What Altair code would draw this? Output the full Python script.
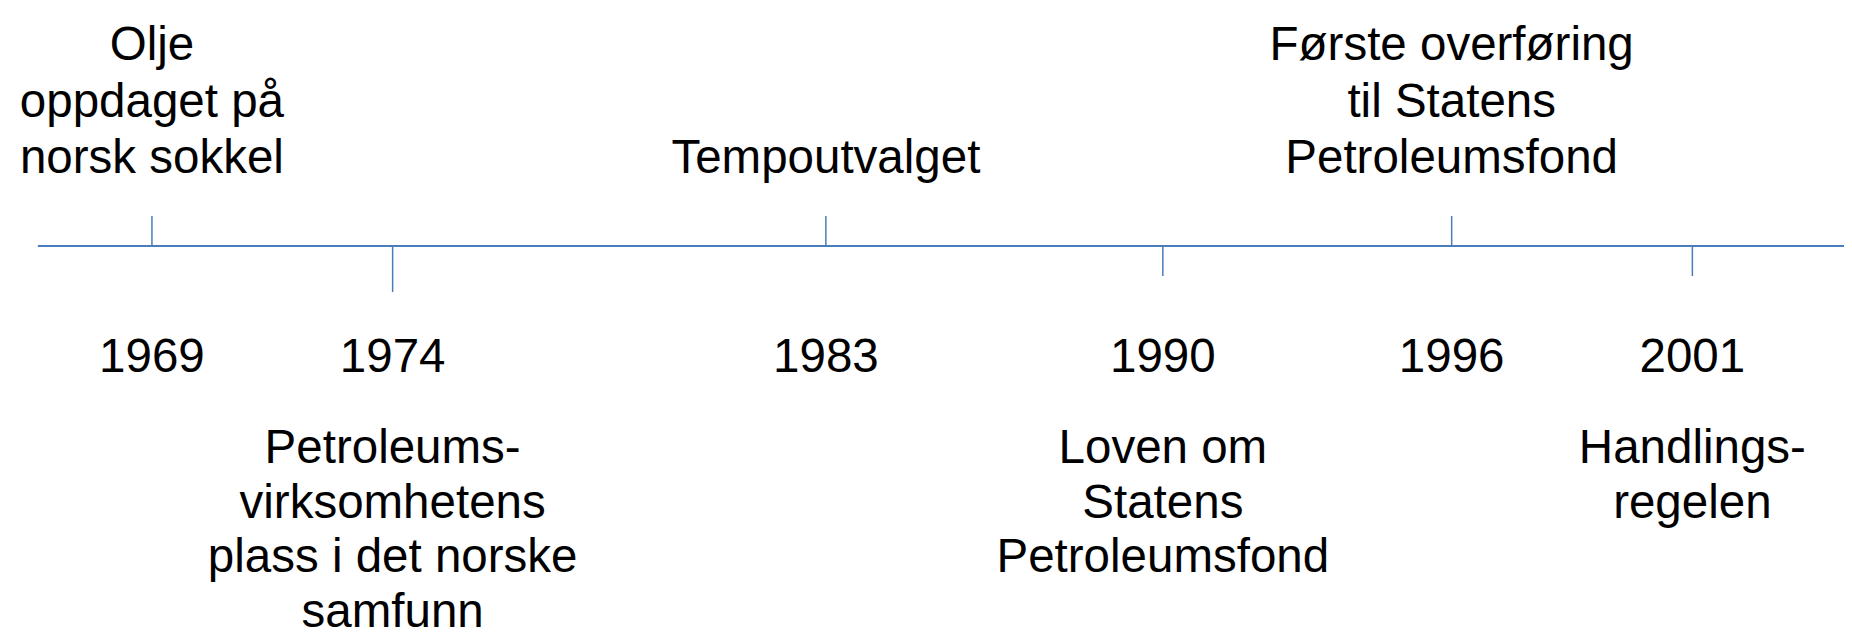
import altair as alt
import pandas as pd

# ---- data ----
years = [1969, 1974, 1983, 1990, 1996, 2001]
events = [
    "Olje\noppdaget på\nnorsk sokkel",
    "Petroleums-\nvirksomhetens\nplass i det norske\nsamfunn",
    "Tempoutvalget",
    "Loven om\nStatens\nPetroleumsfond",
    "Første overføring\ntil Statens\nPetroleumsfond",
    "Handlings-\nregelen",
]
side = [1, -1, 1, -1, 1, -1]  # 1 = event above the line, -1 = below

df = pd.DataFrame({"year": years, "event": events, "side": side})

# ---- styles / layout ----
BLUE = "#4a7ebb"
FONT = "Liberation Sans"
FS = 47.5
LH = 56.5
LH_BELOW = 54.5
W, H = 1836, 628

xscale = alt.Scale(domain=[1966.01, 2004.15], nice=False, zero=False)
yscale = alt.Scale(domain=[-390, 238], nice=False, zero=False)

X = alt.X("year:Q", scale=xscale, axis=None)

base = alt.Chart(df)

timeline = alt.Chart(alt.Data(values=[{}])).mark_rule(
    color=BLUE, strokeWidth=2
).encode(
    x=alt.X(datum=1966.63, type="quantitative", scale=xscale, axis=None),
    x2=alt.datum(2004.15),
    y=alt.Y(datum=0, type="quantitative", scale=yscale, axis=None),
)

ticks = base.transform_calculate(
    zero="0",
    tick_end="datum.side > 0 ? 30 : (datum.year == 1974 ? -46 : -30)",
).mark_rule(color=BLUE, strokeWidth=1.5).encode(
    x=X,
    y=alt.Y("zero:Q", scale=yscale, axis=None),
    y2="tick_end:Q",
)

year_labels = base.mark_text(
    font=FONT, fontSize=FS, color="black", align="center", baseline="alphabetic"
).encode(
    x=X,
    y=alt.Y(datum=-126, type="quantitative", scale=yscale, axis=None),
    text=alt.Text("year:N"),
)

# labels above the line: last line's baseline sits at a common height
above = base.transform_filter("datum.side > 0").transform_calculate(
    nlines="length(split(datum.event, '\\n'))",
    ypos=f"73 + (datum.nlines - 1) * {LH}",
).mark_text(
    font=FONT, fontSize=FS, color="black", align="center", baseline="alphabetic",
    lineBreak="\n", lineHeight=LH,
).encode(
    x=X,
    y=alt.Y("ypos:Q", scale=yscale, axis=None),
    text="event:N",
)

below = base.transform_filter("datum.side < 0").mark_text(
    font=FONT, fontSize=FS, color="black", align="center", baseline="alphabetic",
    lineBreak="\n", lineHeight=LH_BELOW,
).encode(
    x=X,
    y=alt.Y(datum=-217, type="quantitative", scale=yscale, axis=None),
    text="event:N",
)

chart = alt.layer(timeline, ticks, year_labels, above, below).properties(
    width=W, height=H, padding=0, autosize=alt.AutoSizeParams(type="none"),
    background="white",
).configure_view(stroke=None)

chart.save("out.html", embed_options={"renderer": "svg", "actions": False})
